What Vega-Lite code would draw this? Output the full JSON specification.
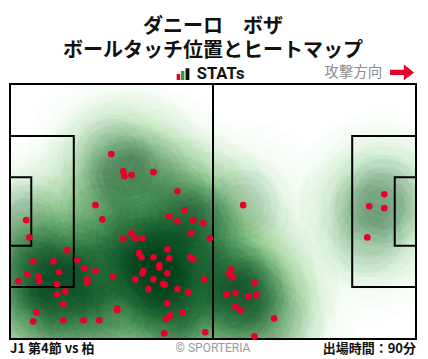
{
  "$schema": "https://vega.github.io/schema/vega-lite/v6.json",
  "width": 406,
  "height": 255,
  "autosize": "none",
  "padding": {"left": 10, "top": 84, "right": 12, "bottom": 20},
  "background": "white",
  "config": {"view": {"stroke": null}},
  "title": {
    "text": "ダニーロ　ボザ",
    "subtitle": "ボールタッチ位置とヒートマップ",
    "font": "Noto Sans CJK JP",
    "fontSize": 20,
    "fontWeight": "bold",
    "subtitleFont": "Noto Sans CJK JP",
    "subtitleFontSize": 20,
    "subtitleFontWeight": "bold",
    "subtitleColor": "#111111",
    "subtitlePadding": 4.5,
    "anchor": "middle",
    "color": "#111111",
    "offset": 3
  },
  "datasets": {
    "touches": [
      {"x": 26.2, "y": 18.7}, {"x": 29.3, "y": 23.3}, {"x": 29.6, "y": 24.6}, {"x": 31.4, "y": 24.3},
      {"x": 37.1, "y": 23.5}, {"x": 43.3, "y": 28.6}, {"x": 22.1, "y": 32.3}, {"x": 45.1, "y": 33.6},
      {"x": 23.9, "y": 36.1}, {"x": 41.2, "y": 35.3}, {"x": 43.3, "y": 36.6}, {"x": 47.4, "y": 36.3},
      {"x": 50.0, "y": 37.1}, {"x": 4.2, "y": 36.3}, {"x": 5.0, "y": 40.9}, {"x": 31.4, "y": 39.8},
      {"x": 29.3, "y": 41.3}, {"x": 32.4, "y": 41.1}, {"x": 34.2, "y": 41.1}, {"x": 46.9, "y": 39.8},
      {"x": 51.7, "y": 41.1}, {"x": 14.8, "y": 44.3}, {"x": 6.0, "y": 47.3}, {"x": 11.2, "y": 47.3},
      {"x": 17.4, "y": 47.0}, {"x": 33.4, "y": 45.1}, {"x": 34.0, "y": 46.2}, {"x": 37.1, "y": 46.2},
      {"x": 40.7, "y": 44.1}, {"x": 41.2, "y": 46.5}, {"x": 46.6, "y": 46.2}, {"x": 47.4, "y": 46.7},
      {"x": 19.2, "y": 49.1}, {"x": 22.1, "y": 49.9}, {"x": 12.7, "y": 50.2}, {"x": 4.5, "y": 50.7},
      {"x": 7.3, "y": 51.3}, {"x": 7.6, "y": 52.6}, {"x": 2.1, "y": 52.6}, {"x": 12.2, "y": 53.4},
      {"x": 14.3, "y": 55.3}, {"x": 12.2, "y": 56.1}, {"x": 20.0, "y": 52.1}, {"x": 20.0, "y": 52.9},
      {"x": 26.7, "y": 51.3}, {"x": 34.2, "y": 50.5}, {"x": 34.5, "y": 49.9}, {"x": 38.6, "y": 48.3},
      {"x": 38.6, "y": 49.0}, {"x": 40.7, "y": 50.5}, {"x": 37.1, "y": 52.1}, {"x": 32.4, "y": 52.1},
      {"x": 35.8, "y": 54.7}, {"x": 39.6, "y": 53.3}, {"x": 40.1, "y": 53.5}, {"x": 43.3, "y": 54.7},
      {"x": 46.1, "y": 55.5}, {"x": 50.2, "y": 52.1}, {"x": 13.8, "y": 58.7}, {"x": 6.8, "y": 60.9},
      {"x": 6.0, "y": 63.3}, {"x": 13.8, "y": 63.0}, {"x": 19.0, "y": 63.0}, {"x": 23.1, "y": 63.0},
      {"x": 27.7, "y": 59.8}, {"x": 27.7, "y": 60.3}, {"x": 40.7, "y": 58.5}, {"x": 41.5, "y": 61.7},
      {"x": 40.4, "y": 62.7}, {"x": 44.6, "y": 60.9}, {"x": 39.9, "y": 66.5}, {"x": 50.5, "y": 66.2},
      {"x": 60.3, "y": 32.3}, {"x": 57.2, "y": 49.4}, {"x": 56.7, "y": 50.7}, {"x": 57.7, "y": 51.5},
      {"x": 63.2, "y": 53.1}, {"x": 55.9, "y": 56.1}, {"x": 58.3, "y": 55.8}, {"x": 61.6, "y": 56.6},
      {"x": 63.7, "y": 56.3}, {"x": 58.3, "y": 59.3}, {"x": 59.6, "y": 60.3}, {"x": 68.3, "y": 62.5},
      {"x": 63.2, "y": 67.3}, {"x": 96.8, "y": 29.4}, {"x": 92.9, "y": 32.6}, {"x": 96.8, "y": 33.1},
      {"x": 92.4, "y": 40.9}
    ],
    "boxes": [
      {"name": "outer", "x": 0, "x2": 105, "y": 0, "y2": 68},
      {"name": "left penalty", "x": 0, "x2": 16.5, "y": 13.84, "y2": 54.16},
      {"name": "left goal", "x": 0, "x2": 5.5, "y": 24.84, "y2": 43.16},
      {"name": "right penalty", "x": 88.5, "x2": 105, "y": 13.84, "y2": 54.16},
      {"name": "right goal", "x": 99.5, "x2": 105, "y": 24.84, "y2": 43.16}
    ],
    "halfway": [{"x": 52.5, "y": 0, "y2": 68}]
  },
  "layer": [
    {
      "data": {"name": "touches"},
      "mark": {"type": "point", "filled": true, "shape": "circle", "size": 28353, "color": "#c7e9c0", "opacity": 0.05, "clip": true},
      "encoding": {
        "x": {"field": "x", "type": "quantitative", "scale": {"domain": [0, 105], "nice": false, "zero": false}, "axis": null},
        "y": {"field": "y", "type": "quantitative", "scale": {"domain": [0, 68], "nice": false, "zero": false, "reverse": true}, "axis": null}
      }
    },
    {
      "data": {"name": "touches"},
      "mark": {"type": "point", "filled": true, "shape": "circle", "size": 20106, "color": "#c7e9c0", "opacity": 0.05, "clip": true},
      "encoding": {"x": {"field": "x", "type": "quantitative"}, "y": {"field": "y", "type": "quantitative"}}
    },
    {
      "data": {"name": "touches"},
      "mark": {"type": "point", "filled": true, "shape": "circle", "size": 15394, "color": "#a1d99b", "opacity": 0.035, "clip": true},
      "encoding": {"x": {"field": "x", "type": "quantitative"}, "y": {"field": "y", "type": "quantitative"}}
    },
    {
      "data": {"name": "touches"},
      "mark": {"type": "point", "filled": true, "shape": "circle", "size": 11310, "color": "#74c476", "opacity": 0.03, "clip": true},
      "encoding": {"x": {"field": "x", "type": "quantitative"}, "y": {"field": "y", "type": "quantitative"}}
    },
    {
      "data": {"name": "touches"},
      "mark": {"type": "point", "filled": true, "shape": "circle", "size": 9503, "color": "#41ab5d", "opacity": 0.03, "clip": true},
      "encoding": {"x": {"field": "x", "type": "quantitative"}, "y": {"field": "y", "type": "quantitative"}}
    },
    {
      "data": {"name": "touches"},
      "mark": {"type": "point", "filled": true, "shape": "circle", "size": 6362, "color": "#238b45", "opacity": 0.03, "clip": true},
      "encoding": {"x": {"field": "x", "type": "quantitative"}, "y": {"field": "y", "type": "quantitative"}}
    },
    {
      "data": {"name": "touches"},
      "mark": {"type": "point", "filled": true, "shape": "circle", "size": 5027, "color": "#00441b", "opacity": 0.035, "clip": true},
      "encoding": {"x": {"field": "x", "type": "quantitative"}, "y": {"field": "y", "type": "quantitative"}}
    },
    {
      "data": {"name": "touches"},
      "mark": {"type": "point", "filled": true, "shape": "circle", "size": 3217, "color": "#00441b", "opacity": 0.035, "clip": true},
      "encoding": {"x": {"field": "x", "type": "quantitative"}, "y": {"field": "y", "type": "quantitative"}}
    },
    {
      "data": {"name": "touches"},
      "mark": {"type": "point", "filled": true, "shape": "circle", "size": 1810, "color": "#00441b", "opacity": 0.035, "clip": true},
      "encoding": {"x": {"field": "x", "type": "quantitative"}, "y": {"field": "y", "type": "quantitative"}}
    },
    {
      "data": {"name": "boxes"},
      "mark": {"type": "rect", "filled": false, "stroke": "#000000", "strokeWidth": 2},
      "encoding": {
        "x": {"field": "x", "type": "quantitative"},
        "x2": {"field": "x2"},
        "y": {"field": "y", "type": "quantitative"},
        "y2": {"field": "y2"}
      }
    },
    {
      "data": {"name": "halfway"},
      "mark": {"type": "rule", "stroke": "#000000", "strokeWidth": 2},
      "encoding": {
        "x": {"field": "x", "type": "quantitative"},
        "y": {"field": "y", "type": "quantitative"},
        "y2": {"field": "y2"}
      }
    },
    {
      "data": {"name": "touches"},
      "mark": {"type": "point", "filled": true, "shape": "circle", "size": 44, "color": "#e8002a", "opacity": 1},
      "encoding": {"x": {"field": "x", "type": "quantitative"}, "y": {"field": "y", "type": "quantitative"}}
    },
    {
      "data": {"values": [{}]},
      "mark": {"type": "rect", "color": "#e60026"},
      "encoding": {"x": {"datum": 43.1}, "x2": {"datum": 44.0}, "y": {"datum": -2.67}, "y2": {"datum": -1.07}}
    },
    {
      "data": {"values": [{}]},
      "mark": {"type": "rect", "color": "#2e9e3e"},
      "encoding": {"x": {"datum": 44.2}, "x2": {"datum": 45.1}, "y": {"datum": -3.47}, "y2": {"datum": -1.07}}
    },
    {
      "data": {"values": [{}]},
      "mark": {"type": "rect", "color": "#111111"},
      "encoding": {"x": {"datum": 45.4}, "x2": {"datum": 46.4}, "y": {"datum": -4.2}, "y2": {"datum": -1.07}}
    },
    {
      "data": {"values": [{}]},
      "mark": {"type": "text", "text": "STATs", "font": "Roboto", "fontWeight": "bold", "fontSize": 16.5, "align": "left", "baseline": "middle", "color": "#111111"},
      "encoding": {"x": {"datum": 48.3}, "y": {"datum": -2.67}}
    },
    {
      "data": {"values": [{}]},
      "mark": {"type": "text", "text": "攻撃方向", "font": "Noto Sans CJK JP", "fontSize": 14.5, "align": "right", "baseline": "middle", "color": "#8c8c8c"},
      "encoding": {"x": {"datum": 96.3}, "y": {"datum": -2.9}}
    },
    {
      "data": {"values": [{}]},
      "mark": {"type": "point", "filled": true, "shape": "M-1,-0.22L0.15,-0.22L0.15,-0.66L1,0L0.15,0.66L0.15,0.22L-1,0.22Z", "size": 576, "color": "#e60026", "opacity": 1},
      "encoding": {"x": {"datum": 101.4}, "y": {"datum": -3.1}}
    },
    {
      "data": {"values": [{}]},
      "mark": {"type": "text", "text": "J1 第4節 vs 柏", "font": "Noto Sans CJK JP", "fontWeight": "bold", "fontSize": 13, "align": "left", "baseline": "middle", "color": "#111111"},
      "encoding": {"x": {"datum": 0}, "y": {"datum": 70.7}}
    },
    {
      "data": {"values": [{}]},
      "mark": {"type": "text", "text": "© SPORTERIA", "font": "Roboto", "fontSize": 12, "align": "center", "baseline": "middle", "color": "#9a9a9a"},
      "encoding": {"x": {"datum": 52.5}, "y": {"datum": 70.5}}
    },
    {
      "data": {"values": [{}]},
      "mark": {"type": "text", "text": "出場時間：90分", "font": "Noto Sans CJK JP", "fontWeight": "bold", "fontSize": 13, "align": "right", "baseline": "middle", "color": "#111111"},
      "encoding": {"x": {"datum": 105}, "y": {"datum": 70.7}}
    }
  ]
}
